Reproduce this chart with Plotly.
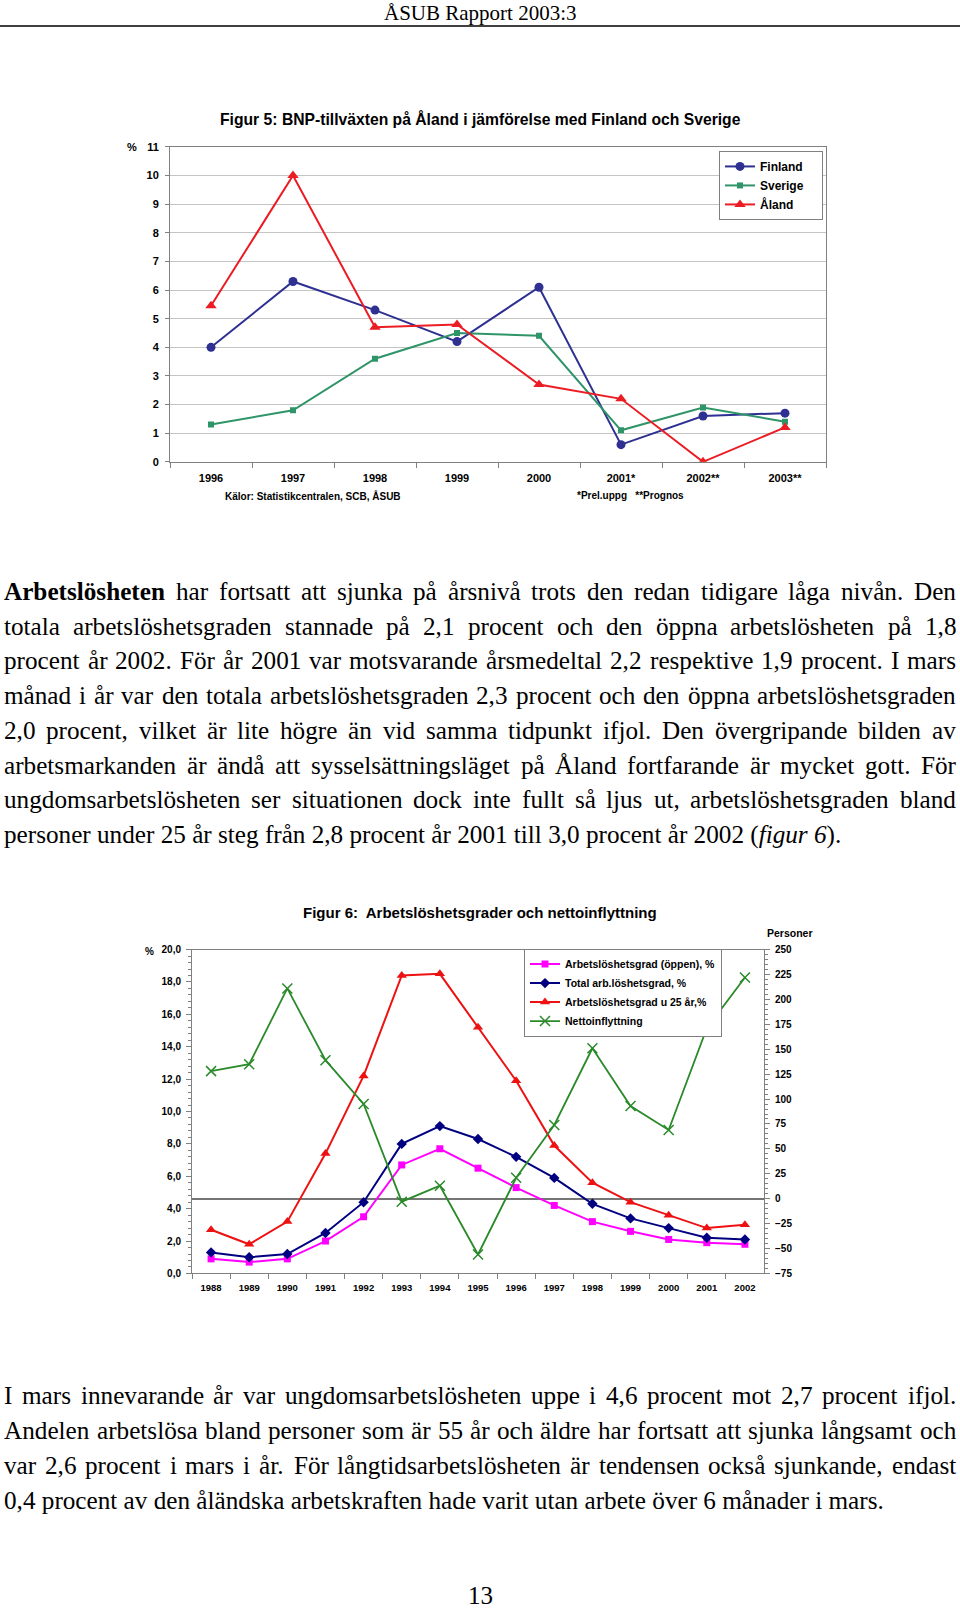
import plotly.graph_objects as go

W, H = 960, 1613

# ---------------- Data: Figur 5 ----------------
years1 = ["1996", "1997", "1998", "1999", "2000", "2001*", "2002**", "2003**"]
finland = [4.0, 6.3, 5.3, 4.2, 6.1, 0.6, 1.6, 1.7]
sverige = [1.3, 1.8, 3.6, 4.5, 4.4, 1.1, 1.9, 1.4]
aland = [5.45, 10.0, 4.7, 4.8, 2.7, 2.2, 0.0, 1.2]

# ---------------- Data: Figur 6 ----------------
years2 = ["1988", "1989", "1990", "1991", "1992", "1993", "1994", "1995",
          "1996", "1997", "1998", "1999", "2000", "2001", "2002"]
oppen = [0.9, 0.7, 0.9, 2.0, 3.5, 6.7, 7.7, 6.5, 5.3, 4.2, 3.2, 2.6, 2.1, 1.9, 1.8]
total = [1.3, 1.0, 1.2, 2.5, 4.4, 8.0, 9.1, 8.3, 7.2, 5.9, 4.3, 3.4, 2.8, 2.2, 2.1]
u25 = [2.7, 1.8, 3.2, 7.4, 12.2, 18.4, 18.5, 15.2, 11.9, 7.9, 5.6, 4.4, 3.6, 2.8, 3.0]
netto = [128, 135, 211, 139, 95, -3, 13, -56, 21, 74, 151, 93, 69, 171, 222]

SANS = "Liberation Sans, Arial, sans-serif"
SERIF = "Liberation Serif, Times New Roman, serif"


def px(x):
    return x / W


def py(y):
    # page pixel (from top) -> paper fraction, with a small vertical calibration
    yc = (y - 5) / 0.993
    return 1 - yc / H


fig = go.Figure()

# Figur 5 traces
fig.add_trace(go.Scatter(x=years1, y=finland, name="Finland", mode="lines+markers",
                         line=dict(color="#2e3192", width=2),
                         marker=dict(symbol="circle", size=9, color="#2e3192"),
                         xaxis="x", yaxis="y", legend="legend"))
fig.add_trace(go.Scatter(x=years1, y=sverige, name="Sverige\u00a0\u00a0\u00a0\u00a0", mode="lines+markers",
                         line=dict(color="#2f9468", width=2),
                         marker=dict(symbol="square", size=6, color="#2f9468"),
                         xaxis="x", yaxis="y", legend="legend"))
fig.add_trace(go.Scatter(x=years1, y=aland, name="Åland", mode="lines+markers",
                         line=dict(color="#ec1c24", width=2),
                         marker=dict(symbol="triangle-up", size=10, color="#ec1c24"),
                         xaxis="x", yaxis="y", legend="legend"))

# Figur 6 traces
fig.add_trace(go.Scatter(x=years2, y=oppen, name="Arbetslöshetsgrad (öppen), %", mode="lines+markers",
                         line=dict(color="#ff00ff", width=2),
                         marker=dict(symbol="square", size=7, color="#ff00ff"),
                         xaxis="x2", yaxis="y2", legend="legend2"))
fig.add_trace(go.Scatter(x=years2, y=total, name="Total arb.löshetsgrad, %", mode="lines+markers",
                         line=dict(color="#000080", width=2),
                         marker=dict(symbol="diamond", size=8, color="#000080"),
                         xaxis="x2", yaxis="y2", legend="legend2"))
fig.add_trace(go.Scatter(x=years2, y=u25, name="Arbetslöshetsgrad u 25 år,%", mode="lines+markers",
                         line=dict(color="#ee1111", width=2),
                         marker=dict(symbol="triangle-up", size=9, color="#ee1111"),
                         xaxis="x2", yaxis="y2", legend="legend2"))
fig.add_trace(go.Scatter(x=years2, y=netto, name="Nettoinflyttning", mode="lines+markers",
                         line=dict(color="#2a8a2a", width=1.8),
                         marker=dict(symbol="x-thin", size=10, line=dict(color="#2a8a2a", width=1.5)),
                         xaxis="x2", yaxis="y3", legend="legend2"))

axcol = "#808080"
tick1 = dict(family=SANS, size=11, color="black", weight="bold")
tick2 = dict(family=SANS, size=9.5, color="black", weight="bold")
tick2y = dict(family=SANS, size=10, color="black", weight="bold")

fig.update_layout(
    width=W, height=H, autosize=False,
    margin=dict(l=0, r=0, t=0, b=0),
    paper_bgcolor="white", plot_bgcolor="white",
    separators=", ",
    showlegend=True,
    xaxis=dict(domain=[px(170), px(826)], anchor="y", type="category",
               categoryorder="array", categoryarray=years1, range=[-0.5, 7.5],
               tickson="boundaries", ticks="outside", ticklen=5, tickcolor=axcol,
               showline=True, linecolor=axcol, linewidth=1, mirror=True,
               showgrid=False, tickfont=tick1, ticklabelstandoff=6),
    yaxis=dict(domain=[py(461), py(146)], anchor="x", range=[0, 11], dtick=1,
               ticks="outside", ticklen=4, tickcolor=axcol,
               showgrid=True, gridcolor="#c4c4c4", gridwidth=1,
               showline=True, linecolor=axcol, linewidth=1, mirror=True,
               zeroline=False, tickfont=tick1, ticklabelstandoff=4),
    xaxis2=dict(domain=[px(192), px(764)], anchor="y2", type="category",
                categoryorder="array", categoryarray=years2, range=[-0.5, 14.5],
                tickson="boundaries", ticks="outside", ticklen=5, tickcolor=axcol,
                showline=True, linecolor=axcol, linewidth=1, mirror=True,
                showgrid=False, tickfont=tick2, ticklabelstandoff=5),
    yaxis2=dict(domain=[py(1273), py(949)], anchor="x2", range=[0, 20], dtick=2,
                tickformat=".1f", ticks="outside", ticklen=5, tickcolor=axcol,
                minor=dict(dtick=0.4, ticks="outside", ticklen=3, tickcolor=axcol),
                showgrid=False, showline=True, linecolor=axcol, linewidth=1,
                zeroline=False, tickfont=tick2y, ticklabelstandoff=3),
    yaxis3=dict(overlaying="y2", side="right", anchor="x2", range=[-75, 250], dtick=25,
                ticks="outside", ticklen=5, tickcolor=axcol,
                minor=dict(dtick=5, ticks="outside", ticklen=3, tickcolor=axcol),
                showgrid=False, showline=True, linecolor=axcol, linewidth=1,
                zeroline=True, zerolinecolor="#757575", zerolinewidth=1.6,
                tickfont=tick2y, ticklabelstandoff=3),
    legend=dict(x=px(719), y=py(150), xanchor="left", yanchor="top",
                bgcolor="white", bordercolor=axcol, borderwidth=1,
                font=dict(family=SANS, size=12, color="black", weight="bold"),
                itemwidth=30, tracegroupgap=0),
    legend2=dict(x=px(524), y=py(948), xanchor="left", yanchor="top",
                 bgcolor="white", bordercolor=axcol, borderwidth=1,
                 font=dict(family=SANS, size=10.5, color="black", weight="bold"),
                 itemwidth=30, tracegroupgap=0),
)

ann = []


def add_text(text, x, y, size, family=SANS, xanchor="center", bold=False, color="black"):
    ann.append(dict(text=text, x=px(x), y=py(y), xref="paper", yref="paper",
                    xanchor=xanchor, yanchor="middle", showarrow=False,
                    borderpad=0, borderwidth=0,
                    font=dict(family=family, size=size, color=color,
                              weight="bold" if bold else "normal")))


# Header
add_text("ÅSUB Rapport 2003:3", 480, 12, 21, family=SERIF)
shapes = [dict(type="line", xref="paper", yref="paper", x0=0, x1=1, y0=py(25), y1=py(25),
               line=dict(color="black", width=1.5))]

# Figur 5 texts
add_text("Figur 5: BNP-tillväxten på Åland i jämförelse med Finland och Sverige", 480, 118, 15.7, bold=True)
add_text("%", 132, 146, 11, bold=True)
add_text("Kälor: Statistikcentralen, SCB, ÅSUB", 225, 495, 10, xanchor="left", bold=True)
add_text("*Prel.uppg\u00a0\u00a0\u00a0**Prognos", 577, 495, 10, xanchor="left", bold=True)

# Figur 6 texts
add_text("Figur 6:\u00a0 Arbetslöshetsgrader och nettoinflyttning", 480, 912, 15, bold=True)
add_text("Personer", 790, 932, 10.5, bold=True)
add_text("%", 149, 951, 10, bold=True)

# ---------------- Body text (justified, Times metrics) ----------------
REG = {}
for ch, w in zip("abcdefghijklmnopqrstuvwxyz",
                 [444, 500, 444, 500, 444, 333, 500, 500, 278, 278, 500, 278, 778,
                  500, 500, 500, 500, 333, 389, 278, 500, 500, 722, 500, 500, 444]):
    REG[ch] = w
for ch, w in zip("ABCDEFGHIJKLMNOPQRSTUVWXYZ",
                 [722, 667, 667, 722, 611, 556, 722, 722, 333, 389, 722, 611, 889,
                  722, 722, 556, 722, 667, 556, 611, 722, 722, 944, 722, 722, 611]):
    REG[ch] = w
for ch in "0123456789":
    REG[ch] = 500
REG.update({",": 250, ".": 250, ":": 278, ";": 278, "(": 333, ")": 333, "-": 333,
            "%": 833, "*": 500, "å": 444, "ä": 444, "ö": 500, "Å": 722, "Ä": 722, "Ö": 722})
BOLD = dict(REG)
for ch, w in zip("abcdefghijklmnopqrstuvwxyz",
                 [500, 556, 444, 556, 444, 333, 500, 556, 278, 333, 556, 278, 833,
                  556, 500, 556, 556, 444, 389, 333, 556, 500, 722, 500, 500, 444]):
    BOLD[ch] = w
BOLD.update({"å": 500, "ä": 500, "ö": 500})

FS = 25.2
LEFT, RIGHT = 4, 956


def word_w(word, bold):
    tab = BOLD if bold else REG
    return sum(tab.get(c, 500) for c in word) * FS / 1000.0


def justified(line, y):
    words = []
    for w in line.split(" "):
        if w.startswith("<b>"):
            words.append((w[3:-4], True))
        else:
            words.append((w, False))
    widths = [word_w(w, b) for w, b in words]
    gap = (RIGHT - LEFT - sum(widths)) / (len(words) - 1)
    x = LEFT
    for (w, b), wd in zip(words, widths):
        ann.append(dict(text=("<b>%s</b>" % w) if b else w, x=px(x), y=py(y),
                        xref="paper", yref="paper", xanchor="left", yanchor="middle",
                        showarrow=False, borderpad=0, borderwidth=0,
                        font=dict(family=SERIF, size=FS, color="black")))
        x += wd + gap


def plain(line, y):
    ann.append(dict(text=line, x=px(LEFT), y=py(y), xref="paper", yref="paper",
                    xanchor="left", yanchor="middle", showarrow=False,
                    borderpad=0, borderwidth=0,
                    font=dict(family=SERIF, size=FS, color="black")))


para1 = [
    "<b>Arbetslösheten</b> har fortsatt att sjunka på årsnivå trots den redan tidigare låga nivån. Den",
    "totala arbetslöshetsgraden stannade på 2,1 procent och den öppna arbetslösheten på 1,8",
    "procent år 2002. För år 2001 var motsvarande årsmedeltal 2,2 respektive 1,9 procent. I mars",
    "månad i år var den totala arbetslöshetsgraden 2,3 procent och den öppna arbetslöshetsgraden",
    "2,0 procent, vilket är lite högre än vid samma tidpunkt ifjol. Den övergripande bilden av",
    "arbetsmarkanden är ändå att sysselsättningsläget på Åland fortfarande är mycket gott. För",
    "ungdomsarbetslösheten ser situationen dock inte fullt så ljus ut, arbetslöshetsgraden bland",
]
para1_last = "personer under 25 år steg från 2,8 procent år 2001 till 3,0 procent år 2002 (<i>figur 6</i>)."
para1_y = [591, 626, 660, 695, 730, 765, 799]

for line, y in zip(para1, para1_y):
    justified(line, y)
plain(para1_last, 834)

para2 = [
    "I mars innevarande år var ungdomsarbetslösheten uppe i 4,6 procent mot 2,7 procent ifjol.",
    "Andelen arbetslösa bland personer som är 55 år och äldre har fortsatt att sjunka långsamt och",
    "var 2,6 procent i mars i år. För långtidsarbetslösheten är tendensen också sjunkande, endast",
]
para2_last = "0,4 procent av den åländska arbetskraften hade varit utan arbete över 6 månader i mars."
para2_y = [1395, 1430, 1465]
for line, y in zip(para2, para2_y):
    justified(line, y)
plain(para2_last, 1500)

# Page number, kept inside the page
ann.append(dict(text="13", x=0.5, y=0.0015, xref="paper", yref="paper",
                xanchor="center", yanchor="bottom", showarrow=False, yshift=-4,
                borderpad=0, borderwidth=0,
                font=dict(family=SERIF, size=25, color="black")))

fig.update_layout(annotations=ann, shapes=shapes)
fig.write_html("out.html")
